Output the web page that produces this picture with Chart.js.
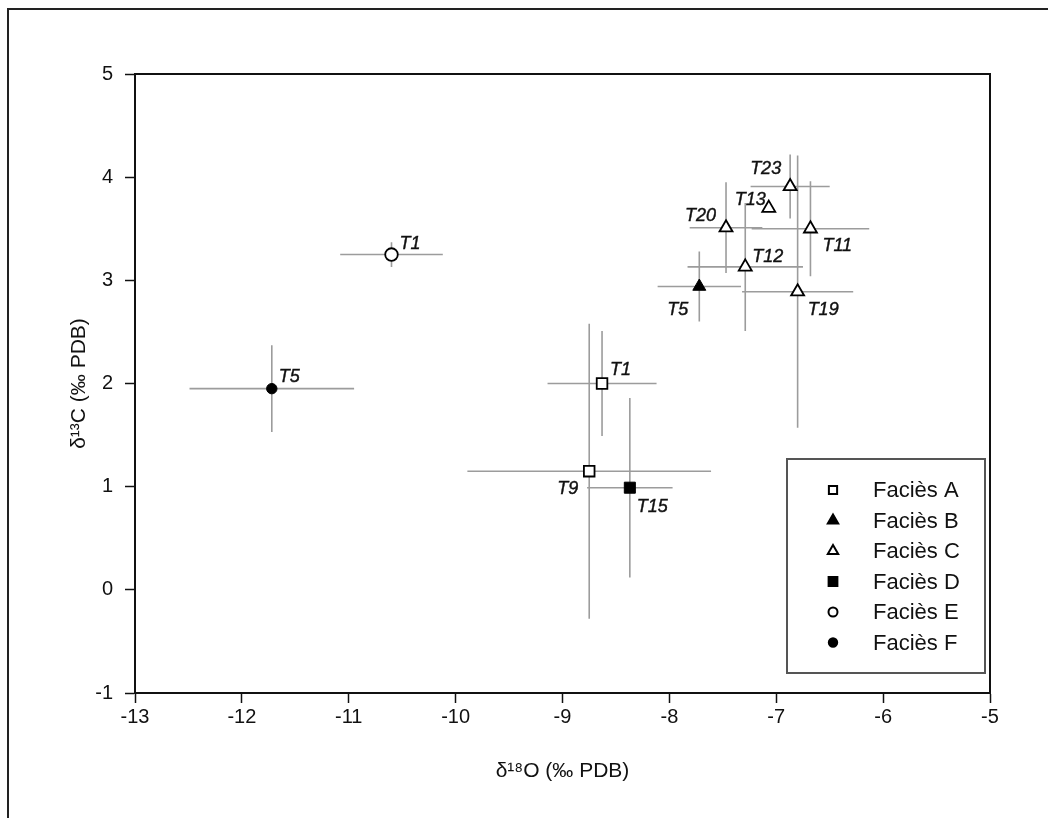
<!DOCTYPE html>
<html>
<head>
<meta charset="utf-8">
<script src="https://cdn.jsdelivr.net/npm/chart.js@4/dist/chart.umd.min.js"></script>
<style>
  body { margin: 0; background: #fff; overflow: hidden; }
  #wrap { position: relative; width: 1048px; height: 818px; }
  #frame { position: absolute; left: 7px; top: 8px; width: 1060px; height: 830px;
           border-left: 2px solid #222; border-top: 2px solid #222; }
  canvas { position: absolute; left: 0; top: 0; }
</style>
</head>
<body>
<div id="wrap">
  <div id="frame"></div>
  <canvas id="chart" width="1048" height="818"></canvas>
</div>
<script>
// Samples, one entry per point.  Error bars are +/- half-widths.
const samples = ['T1', 'T9', 'T5', 'T23', 'T13', 'T20', 'T11', 'T12', 'T19', 'T15', 'T1', 'T5']
const facies  = ['A', 'A', 'B', 'C', 'C', 'C', 'C', 'C', 'C', 'D', 'E', 'F']
const d18O    = [-8.63, -8.75, -7.72, -6.87, -7.07, -7.47, -6.68, -7.29, -6.80, -8.37, -10.60, -11.72]
const d13C    = [2.00, 1.15, 2.94, 3.91, 3.70, 3.51, 3.50, 3.13, 2.89, 0.99, 3.25, 1.95]
const d18Oerr = [0.51, 1.14, 0.39, 0.37, 0, 0.34, 0.55, 0.54, 0.52, 0.40, 0.48, 0.77]
const d13Cerr = [0.51, 1.43, 0.34, 0.31, 0, 0.44, 0.46, 0.62, 1.32, 0.87, 0.12, 0.42]

const faciesKeys  = ['A', 'B', 'C', 'D', 'E', 'F']
const faciesNames = ['Faciès A', 'Faciès B', 'Faciès C', 'Faciès D', 'Faciès E', 'Faciès F']

const xTicks = [-13, -12, -11, -10, -9, -8, -7, -6, -5]
const yTicks = [-1, 0, 1, 2, 3, 4, 5]

// marker look per facies
const markerStyle = {
    A: { pointStyle: 'rect',     radius: 7.5, fill: '#fff', legendRadius: 5.8 },
    B: { pointStyle: 'triangle', radius: 7.5, fill: '#000', legendRadius: 6 },
    C: { pointStyle: 'triangle', radius: 7.5, fill: '#fff', legendRadius: 6 },
    D: { pointStyle: 'rect',     radius: 7.8, fill: '#000', legendRadius: 6.2 },
    E: { pointStyle: 'circle',   radius: 6.3, fill: '#fff', legendRadius: 4.5 },
    F: { pointStyle: 'circle',   radius: 5.2, fill: '#000', legendRadius: 4.2 },
}

// where each sample label sits relative to its marker: [align, dx, dy]
const labelNudge = [
    ['left', 8, -14], ['right', -11, 18], ['right', -11, 23], ['right', -9, -17],
    ['right', -3, -8], ['right', -10, -12], ['left', 12, 17], ['left', 7, -10],
    ['left', 10, 18], ['left', 7, 19], ['left', 8, -11], ['left', 7, -12],
]

const FONT = "'Liberation Sans', Arial, sans-serif"

let datasets = faciesKeys.map((k, di) => {
    let idx = []
    facies.forEach((f, i) => { if (f == k) idx.push(i) })
    let st = markerStyle[k]
    return {
        label: faciesNames[di],
        data: idx.map(i => ({ x: d18O[i], y: d13C[i] })),
        sampleIdx: idx,
        pointStyle: st.pointStyle,
        pointRadius: st.radius,
        pointBackgroundColor: st.fill,
        pointBorderColor: '#000',
        pointBorderWidth: st.fill == '#fff' ? 1.8 : 1,
    }
})

// Error bars go under the markers
const errorBars = {
    id: 'errorBars',
    beforeDatasetsDraw(chart) {
        let ctx = chart.ctx
        let xs = chart.scales.x, ys = chart.scales.y
        ctx.save()
        ctx.strokeStyle = '#9c9c9c'
        ctx.lineWidth = 1.6
        for (let i = 0; i < samples.length; i++) {
            let px = xs.getPixelForValue(d18O[i])
            let py = ys.getPixelForValue(d13C[i])
            ctx.beginPath()
            if (d18Oerr[i] > 0) {
                ctx.moveTo(xs.getPixelForValue(d18O[i] - d18Oerr[i]), py)
                ctx.lineTo(xs.getPixelForValue(d18O[i] + d18Oerr[i]), py)
            }
            if (d13Cerr[i] > 0) {
                ctx.moveTo(px, ys.getPixelForValue(d13C[i] - d13Cerr[i]))
                ctx.lineTo(px, ys.getPixelForValue(d13C[i] + d13Cerr[i]))
            }
            ctx.stroke()
        }
        ctx.restore()
    }
}

// Sample names beside the markers
const sampleLabels = {
    id: 'sampleLabels',
    afterDatasetsDraw(chart) {
        let ctx = chart.ctx
        ctx.save()
        ctx.font = "italic 18px " + FONT
        ctx.fillStyle = '#111'
        ctx.strokeStyle = '#111'
        ctx.lineWidth = 0.4
        ctx.textBaseline = 'middle'
        chart.data.datasets.forEach((ds, di) => {
            let meta = chart.getDatasetMeta(di)
            meta.data.forEach((el, j) => {
                let i = ds.sampleIdx[j]
                let [align, dx, dy] = labelNudge[i]
                ctx.textAlign = align
                ctx.fillText(samples[i], el.x + dx, el.y + dy)
                ctx.strokeText(samples[i], el.x + dx, el.y + dy)
            })
        })
        ctx.restore()
    }
}

// Close the plot box (top and right) and draw the boxed legend
const boxAndLegend = {
    id: 'boxAndLegend',
    afterDraw(chart) {
        let ctx = chart.ctx
        let a = chart.chartArea
        ctx.save()
        ctx.strokeStyle = '#111'
        ctx.lineWidth = 2
        ctx.beginPath()
        ctx.moveTo(a.left, a.top)
        ctx.lineTo(a.right, a.top)
        ctx.lineTo(a.right, a.bottom)
        ctx.stroke()

        // legend box, anchored to lower right of the plot
        let bx = a.right - 203, by = a.bottom - 234, bw = 198, bh = 214
        ctx.strokeStyle = '#555'
        ctx.lineWidth = 2
        ctx.strokeRect(bx, by, bw, bh)

        let rowH = 30.5
        ctx.font = "22px " + FONT
        ctx.textBaseline = 'middle'
        ctx.textAlign = 'left'
        chart.data.datasets.forEach((ds, di) => {
            let st = markerStyle[faciesKeys[di]]
            let cy = by + 31 + di * rowH
            let cx = bx + 46
            ctx.fillStyle = st.fill
            ctx.strokeStyle = '#000'
            Chart.helpers.drawPoint(ctx, {
                pointStyle: st.pointStyle, rotation: 0, radius: st.legendRadius,
                borderWidth: st.fill == '#fff' ? 1.6 : 0.5
            }, cx, cy)
            ctx.fillStyle = '#111'
            ctx.fillText(ds.label, bx + 86, cy + 1)
        })
        ctx.restore()
    }
}

let PLOT_LEFT = 135, PLOT_TOP = 74, PLOT_RIGHT = 990, PLOT_BOTTOM = 693
let PAD_LEFT = 58, PAD_BOTTOM = 30

function axisOpts(ticks, titleText, titlePad, tickPad, fit) {
    return {
        type: 'linear',
        min: ticks[0],
        max: ticks[ticks.length - 1],
        afterBuildTicks: s => { s.ticks = ticks.map(v => ({ value: v })) },
        ticks: { color: '#111', font: { family: FONT, size: 20 }, padding: tickPad },
        grid: { drawOnChartArea: false, drawTicks: true, tickLength: 10, tickColor: '#111', tickWidth: 1.5 },
        border: { display: true, color: '#111', width: 2 },
        title: { display: true, text: titleText, color: '#111',
                 font: { family: FONT, size: 21 }, padding: titlePad },
        afterFit: fit,
    }
}

let ctx = document.getElementById('chart')
let chart = new Chart(ctx, {
    type: 'scatter',
    data: { datasets },
    options: {
        responsive: false,
        animation: false,
        layout: { padding: { left: PAD_LEFT, top: PLOT_TOP, right: 1048 - PLOT_RIGHT, bottom: PAD_BOTTOM } },
        plugins: { legend: { display: false }, tooltip: { enabled: false } },
        scales: {
            x: axisOpts(xTicks, 'δ¹⁸O (‰ PDB)', { top: 0, bottom: 4 }, 2,
                        s => { s.height = 818 - PLOT_BOTTOM - PAD_BOTTOM }),
            y: axisOpts(yTicks, 'δ¹³C (‰ PDB)', { top: 9, bottom: 0 }, 12,
                        s => { s.width = PLOT_LEFT - PAD_LEFT }),
        }
    },
    plugins: [errorBars, sampleLabels, boxAndLegend]
})
</script>
</body>
</html>
